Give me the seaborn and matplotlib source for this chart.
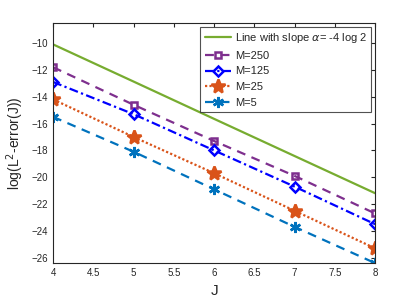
import numpy as np
import pandas as pd
import seaborn as sns
import matplotlib
matplotlib.use('Agg')
import matplotlib.pyplot as plt

J = [4, 5, 6, 7, 8]
slope_line = [-10.1, -12.87, -15.65, -18.42, -21.19]
err_M250 = [-11.8, -14.6, -17.3, -19.9, -22.7]
err_M125 = [-12.9, -15.3, -18.0, -20.7, -23.5]
err_M25 = [-14.2, -17.0, -19.7, -22.5, -25.3]
err_M5 = [-15.5, -18.1, -20.9, -23.7, -26.4]

x_ticks = [4, 4.5, 5, 5.5, 6, 6.5, 7, 7.5, 8]
y_ticks = [-26, -24, -22, -20, -18, -16, -14, -12, -10]

sns.set_style('white')
plt.rcParams['font.family'] = ['Liberation Sans', 'DejaVu Sans']

fig = plt.figure(figsize=(4.15, 2.98), dpi=100)
ax = fig.add_axes([0.128, 0.117, 0.776, 0.806])

series = [
    ('Line with slope $\\alpha$= -4 log 2', slope_line, '#77AC30', '-', None, 5),
    ('M=250', err_M250, '#7E2F8E', (0, (4, 3)), 's', 5),
    ('M=125', err_M125, '#0000FF', (0, (4, 1.5, 1, 1.5)), 'D', 5),
    ('M=25', err_M25, '#D95319', (0, (1, 1)), '*', 10),
    ('M=5', err_M5, '#0072BD', (0, (4, 3)), (6, 2, 0), 8),
]

for name, vals, col, ls, mk, ms in series:
    df = pd.DataFrame({'J': J, 'err': vals})
    sns.lineplot(data=df, x='J', y='err', ax=ax, color=col, linestyle=ls,
                 marker=mk, markersize=ms, markerfacecolor='none' if mk in ('s', 'D') else col,
                 markeredgecolor=col, markeredgewidth=1.8, linewidth=1.6, label=name)

ax.set_xlim(4, 8)
ax.set_ylim(-26.4, -8.5)
ax.set_xticks(x_ticks)
ax.set_xticklabels([f'{t:g}' for t in x_ticks])
ax.set_yticks(y_ticks)
ax.tick_params(direction='in', length=3, labelsize=7, colors='#262626', top=True, right=True)
for s in ax.spines.values():
    s.set_color('#262626')
    s.set_linewidth(0.8)
ax.set_xlabel('J', fontsize=11, color='#262626')
ax.set_ylabel('log(L$^2$-error(J))', fontsize=10, color='#262626')

leg = ax.legend(loc='upper right', fontsize=8, frameon=True, fancybox=False,
                edgecolor='#262626', handlelength=2.4, borderpad=0.4, labelspacing=0.5,
                handletextpad=0.3, borderaxespad=0.35)
leg.get_frame().set_linewidth(0.8)

fig.savefig('out.png', dpi=100)
